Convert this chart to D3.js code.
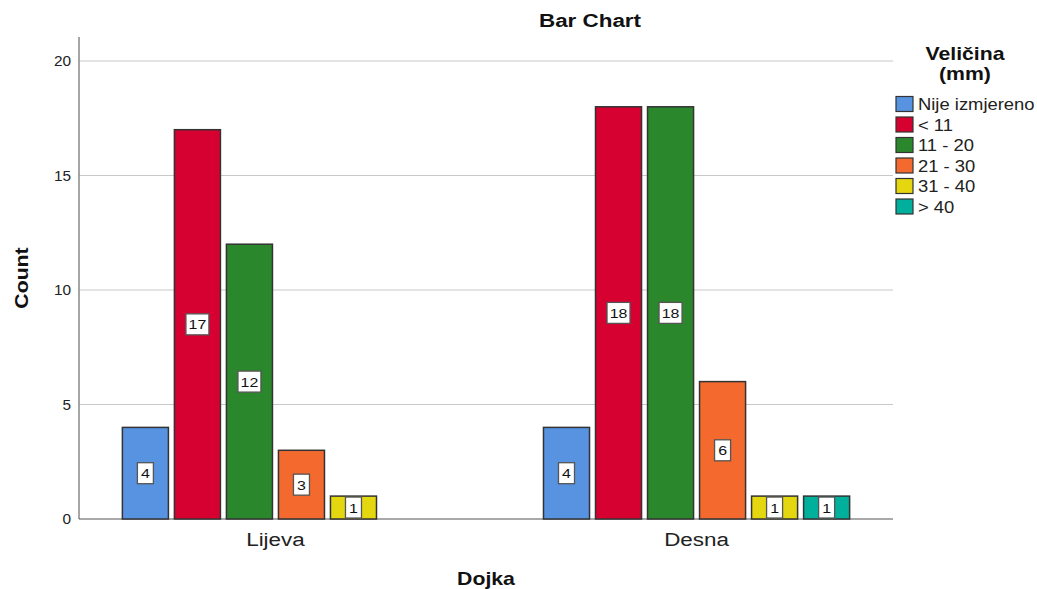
<!DOCTYPE html>
<html lang="en">
<head>
  <meta charset="UTF-8">
  <title>Bar Chart</title>
  <script src="https://d3js.org/d3.v7.min.js"></script>
  <style>
    body { margin: 0; background: #fff; }
    svg { font-family: "Liberation Sans", Arial, sans-serif; }
    .grid line { stroke: #c8c8c8; stroke-width: 1px; }
    .bar { stroke: #333; stroke-width: 1.5px; }
    .lbl rect { fill: #fff; stroke: #555; stroke-width: 1.3px; }
  </style>
</head>
<body>
  <svg width="1037" height="589"></svg>
  <script>
    // data
    const dojka = ["Lijeva", "Desna"];
    const velicina = ["Nije izmjereno", "< 11", "11 - 20", "21 - 30", "31 - 40", "> 40"];
    const lijeva = [4, 17, 12, 3, 1, 0];
    const desna = [4, 18, 18, 6, 1, 1];
    const yTicks = [0, 5, 10, 15, 20];
    const colors = ["#5793e1", "#d60031", "#2b872b", "#f3692e", "#e4d70f", "#00b09c"];

    const counts = { "Lijeva": lijeva, "Desna": desna };

    const svg = d3.select("svg");
    const pLeft = 79, pRight = 893, pTop = 37, pBottom = 519;
    const SX = 1.18; // the original text is drawn a bit wide

    // text helper, stretched horizontally like the source image
    function txt(parent, x, y, s, size, opts) {
      opts = opts || {};
      const rot = opts.rot ? ` rotate(${opts.rot})` : "";
      return parent.append("text")
        .attr("transform", `translate(${x},${y})${rot} scale(${opts.sx || SX},1)`)
        .attr("text-anchor", opts.anchor || "start")
        .style("font-size", size + "px")
        .style("font-weight", opts.bold ? "bold" : "normal")
        .style("fill", opts.fill || "#111")
        .text(s);
    }

    const x = d3.scaleBand().domain(dojka).range([pLeft, pRight])
                .paddingInner(0.273).paddingOuter(0.103);
    const xs = d3.scaleBand().domain(velicina).range([0, x.bandwidth()])
                 .paddingInner(0.115).paddingOuter(0);
    const y = d3.scaleLinear().domain([0, 20]).range([pBottom, 61]);

    // gridlines
    svg.append("g").attr("class", "grid")
      .selectAll("line")
      .data(yTicks.filter(d => d > 0))
      .join("line")
        .attr("x1", pLeft).attr("x2", pRight)
        .attr("y1", d => y(d)).attr("y2", d => y(d));

    // tick labels
    const yl = svg.append("g");
    yTicks.forEach(t => txt(yl, pLeft - 8, y(t) + 5, t, 14, { anchor: "end", fill: "#222", sx: 1.1 }));

    // axis lines
    svg.append("line").attr("x1", pLeft).attr("x2", pLeft).attr("y1", pTop).attr("y2", pBottom)
       .attr("stroke", "#888").attr("stroke-width", 1.5);
    svg.append("line").attr("x1", pLeft).attr("x2", pRight).attr("y1", pBottom).attr("y2", pBottom)
       .attr("stroke", "#555").attr("stroke-width", 1.2);

    const rows = [];
    dojka.forEach(g => velicina.forEach((v, i) => {
      if (counts[g][i] > 0) rows.push({ g: g, v: v, i: i, n: counts[g][i] });
    }));

    svg.append("g").selectAll("rect")
      .data(rows)
      .join("rect")
        .attr("class", "bar")
        .attr("x", d => x(d.g) + xs(d.v))
        .attr("y", d => y(d.n))
        .attr("width", xs.bandwidth())
        .attr("height", d => y(0) - y(d.n))
        .attr("fill", d => colors[d.i]);

    // value labels
    const lbl = svg.append("g").selectAll("g")
      .data(rows)
      .join("g")
        .attr("class", "lbl")
        .attr("transform", d => `translate(${x(d.g) + xs(d.v) + xs.bandwidth() / 2},${(y(d.n) + y(0)) / 2})`);
    lbl.append("rect")
      .attr("x", d => String(d.n).length > 1 ? -11.5 : -8)
      .attr("width", d => String(d.n).length > 1 ? 23 : 16)
      .attr("y", -10.5).attr("height", 21);
    lbl.each(function(d) {
      txt(d3.select(this), 0, 5, d.n, 13.5, { anchor: "middle", fill: "#111" });
    });

    // x tick labels
    const xl = svg.append("g");
    dojka.forEach(d => txt(xl, x(d) + x.bandwidth() / 2, 546, d, 19, { anchor: "middle", fill: "#222" }));

    // titles
    txt(svg, 590, 27, "Bar Chart", 19, { anchor: "middle", bold: true });
    txt(svg, 486, 585, "Dojka", 18, { anchor: "middle", bold: true });
    txt(svg, 28, 278, "Count", 18, { anchor: "middle", bold: true, rot: -90 });

    // legend
    const leg = svg.append("g");
    txt(leg, 965, 60, "Veličina", 18, { anchor: "middle", bold: true });
    txt(leg, 965, 80, "(mm)", 18, { anchor: "middle", bold: true });
    const item = leg.selectAll("g")
      .data(velicina)
      .join("g")
        .attr("transform", (d, i) => `translate(896,${96.5 + i * 20.5})`);
    item.append("rect").attr("width", 17).attr("height", 15)
        .attr("fill", (d, i) => colors[i]).attr("stroke", "#333").attr("stroke-width", 1.2);
    item.each(function(d) {
      txt(d3.select(this), 22, 13.5, d, 16, { fill: "#222", sx: 1.15 });
    });
  </script>
</body>
</html>
